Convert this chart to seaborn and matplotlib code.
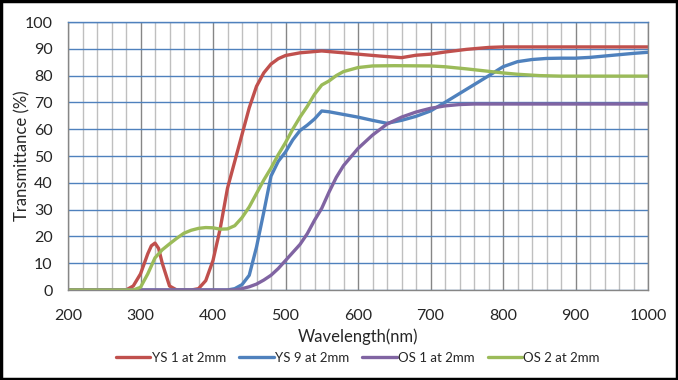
import matplotlib
matplotlib.use("Agg")
import matplotlib.pyplot as plt
import seaborn as sns
import pandas as pd
from matplotlib.patches import Rectangle
from matplotlib.ticker import MultipleLocator

# ---- data ----
ys1_x = [200, 280, 290, 300, 310, 315, 320, 325, 330, 340, 350, 370, 380, 390, 400, 410, 420, 430, 440, 450,
         460, 470, 480, 490, 500, 520, 550, 580, 600, 630, 660, 680, 700, 720, 750, 780, 800, 850,
         900, 950, 1000]
ys1_y = [0, 0, 1.5, 6, 13.5, 16.5, 17.5, 15.5, 10, 1.5, 0, 0, 0.5, 3.5, 11, 23, 38, 48, 58, 68,
         76, 81, 84.3, 86.3, 87.5, 88.5, 89.2, 88.5, 88, 87.3, 86.7, 87.6, 88, 88.8, 89.8, 90.5, 90.7, 90.7,
         90.7, 90.7, 90.7]

ys9_x = [200, 420, 430, 440, 450, 460, 470, 480, 490, 500, 510, 520, 530, 540, 550, 560, 580, 600,
         620, 640, 660, 680, 700, 720, 740, 760, 780, 800, 820, 840, 860, 880, 900, 920, 940, 960,
         980, 1000]
ys9_y = [0, 0, 0.5, 2, 5.5, 16, 29, 42.5, 48, 51.5, 56, 59.5, 61.5, 63.8, 66.8, 66.5, 65.5, 64.5,
         63.3, 62.2, 63.3, 64.8, 66.8, 70, 73.3, 76.6, 79.9, 83.3, 85.2, 86, 86.4, 86.5, 86.5, 86.8, 87.3, 87.8,
         88.3, 88.7]

os1_x = [200, 430, 440, 450, 460, 470, 480, 490, 500, 510, 520, 530, 540, 550, 560, 570, 580, 590,
         600, 620, 640, 660, 680, 700, 720, 740, 760, 800, 900, 1000]
os1_y = [0, 0, 0.5, 1.2, 2.2, 3.7, 5.5, 8, 11, 14, 17, 21, 26, 30.5, 36.5, 42, 46.4, 49.6,
         52.8, 57.8, 61.9, 64.5, 66.4, 67.8, 68.7, 69.2, 69.4, 69.4, 69.4, 69.4]

os2_x = [200, 290, 300, 310, 320, 330, 340, 350, 360, 370, 380, 390, 400, 410, 420, 430, 440, 450,
         460, 470, 480, 490, 500, 510, 520, 530, 540, 550, 560, 570, 580, 600, 620, 650, 700, 720,
         750, 780, 800, 820, 850, 880, 900, 1000]
os2_y = [0, 0, 1, 6, 12, 15, 17.2, 19.3, 21.2, 22.3, 23, 23.3, 23.2, 22.7, 22.8, 24, 27, 31,
         36, 41, 45.5, 50.5, 55, 60, 64.5, 68.5, 73, 76.5, 78, 80, 81.5, 83, 83.6, 83.7, 83.6, 83.3,
         82.5, 81.6, 81, 80.5, 80, 79.8, 79.8, 79.8]

series_names = ["YS 1 at 2mm", "YS 9 at 2mm", "OS 1 at 2mm", "OS 2 at 2mm"]
series_colors = ["#C0504D", "#4F81BD", "#8064A2", "#9BBB59"]
x_ticks = [200, 300, 400, 500, 600, 700, 800, 900, 1000]
y_ticks = [0, 10, 20, 30, 40, 50, 60, 70, 80, 90, 100]

frames = []
for name, xs, ys in zip(series_names, [ys1_x, ys9_x, os1_x, os2_x], [ys1_y, ys9_y, os1_y, os2_y]):
    frames.append(pd.DataFrame({"Wavelength": xs, "T": ys, "series": name}))
df = pd.concat(frames, ignore_index=True)

sns.set_style("white")
plt.rcParams["font.family"] = ["Lato", "DejaVu Sans"]

fig = plt.figure(figsize=(6.78, 3.8), dpi=100)
ax = fig.add_axes([68 / 678, 1 - 290 / 380, 580 / 678, 268 / 380])

sns.lineplot(data=df, x="Wavelength", y="T", hue="series", hue_order=series_names,
             palette=dict(zip(series_names, series_colors)), estimator=None, sort=False,
             linewidth=2.4, ax=ax, legend=True)
for ln in ax.lines:
    ln.set_solid_joinstyle("round")
    ln.set_solid_capstyle("round")

ax.set_xlim(200, 1000)
ax.set_ylim(0, 100)
ax.set_xticks(x_ticks)
ax.set_yticks(y_ticks)
ax.xaxis.set_minor_locator(MultipleLocator(20))
ax.grid(False)
ax.xaxis.grid(True, which="minor", color="#BFBFBF", linewidth=1)
ax.xaxis.grid(True, which="major", color="#868686", linewidth=1)
ax.yaxis.grid(True, which="major", color="#4F81BD", linewidth=1)
ax.set_axisbelow(True)

for side in ["left", "bottom", "right"]:
    ax.spines[side].set_visible(True)
    ax.spines[side].set_color("#868686")
    ax.spines[side].set_linewidth(1)
ax.spines["top"].set_visible(True)
ax.spines["top"].set_color("#4F81BD")
ax.spines["top"].set_linewidth(1)

ax.tick_params(axis="both", which="both", length=0, labelsize=11.5)
ax.tick_params(axis="x", pad=14)
ax.tick_params(axis="y", pad=11)
ax.set_xlabel("Wavelength(nm)", fontsize=12)
ax.xaxis.set_label_coords(0.5, -(337 - 290) / 268)
ax.xaxis.label.set_va("center")
ax.set_ylabel("Transmittance (%)", fontsize=12)
ax.yaxis.set_label_coords(-(68 - 22) / 580, 0.5)
ax.yaxis.label.set_va("center")

handles, labels = ax.get_legend_handles_labels()
ax.legend(handles, labels, loc="center", bbox_to_anchor=(0.5, -(358 - 290) / 268), ncol=4,
          frameon=False, fontsize=9.5, handlelength=2.6, handletextpad=0.1, columnspacing=1.0)

fig.add_artist(Rectangle((0.0015, 0.0025), 0.997, 0.995, transform=fig.transFigure,
                         fill=False, edgecolor="black", linewidth=2.5))

fig.savefig("out.png", dpi=100)
